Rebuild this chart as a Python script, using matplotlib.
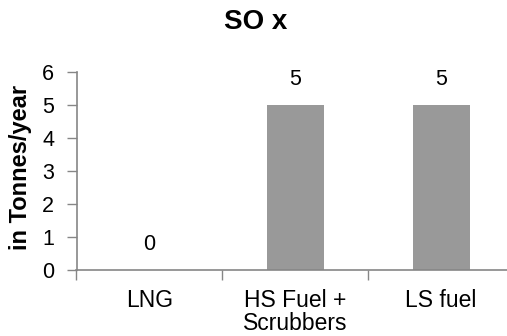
import matplotlib.pyplot as plt
import numpy as np

plt.rcParams['font.family'] = ['Liberation Sans', 'DejaVu Sans']

categories = ['LNG', 'HS Fuel +\nScrubbers', 'LS fuel']
values = [0, 5, 5]
yticks = [0, 1, 2, 3, 4, 5, 6]

axis_grey = '#868686'
bar_grey = '#999999'

fig = plt.figure(figsize=(5.07, 3.36), dpi=100)
ax = fig.add_axes([76.5 / 507, 66 / 336, 437.5 / 507, 198 / 336])

x = np.arange(len(categories))
ax.bar(x, values, width=0.39, color=bar_grey)

for xi, v in zip(x, values):
    ax.annotate(str(v), (xi, v), xytext=(0, 15), textcoords='offset pixels',
                ha='center', va='bottom', fontsize=15.5)

ax.set_xlim(-0.5, 2.5)
ax.set_ylim(0, 6)
ax.set_yticks(yticks)
ax.set_xticks(x)
ax.set_xticklabels(categories, fontsize=16.5, linespacing=1.0)
ax.set_xticks(np.arange(-0.5, 3, 1), minor=True)
ax.tick_params(axis='x', which='major', length=0, pad=14)
ax.tick_params(axis='x', which='minor', length=7, width=1, color=axis_grey)
ax.tick_params(axis='y', length=7, width=1, color=axis_grey, pad=9, labelsize=15.5)

for side in ['top', 'right']:
    ax.spines[side].set_visible(False)
for side in ['left', 'bottom']:
    ax.spines[side].set_color(axis_grey)
    ax.spines[side].set_linewidth(1.2)

ax.set_ylabel('in Tonnes/year', fontsize=17, fontweight='bold')
ax.yaxis.set_label_coords(-0.102, 0.518)
fig.text(256 / 507, 1 - 22 / 336, 'SO x', ha='center', va='center',
         fontsize=20, fontweight='bold')

fig.savefig('out.png', dpi=100)
